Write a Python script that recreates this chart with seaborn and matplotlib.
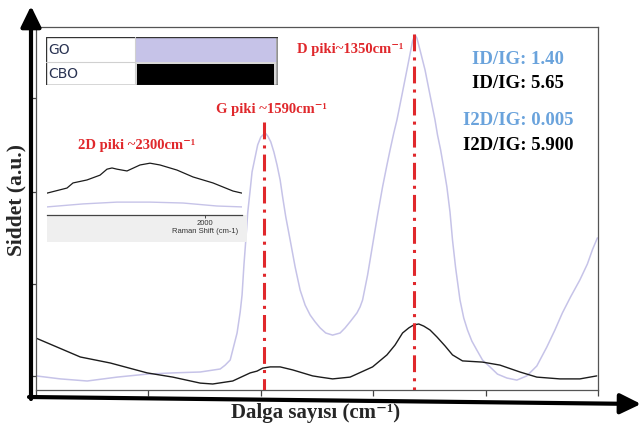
"""
Raman spectrum of GO and CBO with D, G and 2D band annotations.
"""
import numpy as np
import matplotlib
matplotlib.use("Agg")
import matplotlib.pyplot as plt
from matplotlib.patches import Rectangle
import seaborn as sns

# ── Data ───────────────────────────────────────────────────────
# main spectrum, wavenumber (cm-1) vs intensity (a.u.)
go_wn = [1955, 1916, 1873, 1825, 1777, 1736, 1692, 1660, 1652, 1644, 1633,
         1628, 1625, 1622, 1619, 1616, 1612, 1609, 1604, 1600, 1595, 1588,
         1584, 1579, 1574, 1569, 1564, 1560, 1555, 1548, 1540, 1532, 1524,
         1516, 1508, 1500, 1491, 1480, 1468, 1460, 1451, 1441, 1436, 1432,
         1424, 1416, 1408, 1400, 1393, 1388, 1382, 1377, 1369, 1361, 1356,
         1352, 1348, 1345, 1340, 1332, 1324, 1316, 1312, 1307, 1302, 1297,
         1292, 1288, 1283, 1276, 1270, 1264, 1257, 1249, 1240, 1228, 1216,
         1201, 1185, 1169, 1153, 1137, 1124, 1112, 1099, 1084, 1072, 1064,
         1056]
go_int = [4.7, 3.7, 3.0, 4.3, 5.3, 5.7, 6.0, 7.0, 8.3, 10.0, 19.0,
          26.0, 31.7, 41.7, 50.0, 59.0, 66.7, 72.7, 77.7, 81.7, 84.3, 85.7,
          84.7, 82.7, 79.3, 75.0, 70.0, 64.3, 57.7, 50.0, 41.0, 33.3, 28.3,
          25.0, 22.7, 20.7, 19.0, 18.3, 19.0, 20.7, 23.0, 25.7, 27.7, 30.0,
          38.3, 48.3, 58.3, 67.7, 75.0, 80.0, 85.7, 90.0, 98.3, 106.7, 112.0,
          116.3, 118.3, 117.3, 113.3, 106.7, 98.3, 90.0, 85.0, 80.0, 74.0, 67.7,
          59.3, 50.0, 40.7, 30.0, 24.0, 20.0, 16.3, 13.3, 10.0, 7.7, 5.3,
          4.0, 3.3, 4.7, 8.0, 14.3, 20.0, 25.7, 31.0, 36.7, 42.0, 46.7,
          50.7]

cbo_wn = [1955, 1884, 1836, 1777, 1736, 1692, 1672, 1640, 1612, 1601, 1592,
          1580, 1564, 1544, 1512, 1500, 1480, 1452, 1416, 1393, 1380, 1368,
          1358, 1350, 1342, 1334, 1324, 1313, 1300, 1288, 1272, 1240, 1212,
          1180, 1153, 1116, 1084, 1057]
cbo_int = [17.3, 11.0, 9.0, 5.7, 4.3, 2.3, 2.0, 3.0, 5.7, 6.3, 7.3,
           7.7, 7.7, 6.7, 4.7, 4.3, 3.7, 4.3, 7.7, 11.7, 15.0, 19.0,
           20.7, 21.7, 22.0, 21.3, 20.0, 17.7, 14.7, 11.7, 9.7, 9.3, 8.3,
           6.0, 4.3, 3.7, 3.7, 4.7]

# inset: 2D band region
ins_go_wn = [2790, 2610, 2440, 2275, 2110, 1940, 1815]
ins_go_int = [2.7, 3.7, 4.3, 4.3, 4.0, 3.0, 2.7]
ins_cbo_wn = [2790, 2690, 2660, 2590, 2525, 2490, 2465, 2440, 2390, 2325,
              2275, 2225, 2140, 2060, 1960, 1860, 1815]
ins_cbo_int = [7.3, 9.0, 10.7, 11.7, 13.3, 15.3, 15.7, 15.3, 14.7, 16.7,
               17.3, 16.7, 15.0, 12.7, 10.7, 8.0, 7.3]

# peak markers
peak_pos = [1590, 1350]
peak_top = [89.3, 118.7]
peak_labels = ["G piki ~1590cm⁻¹", "D piki~1350cm⁻¹", "2D piki ~2300cm⁻¹"]

ratio_labels = ["ID/IG: 1.40", "ID/IG: 5.65", "I2D/IG: 0.005", "I2D/IG: 5.900"]
ratio_colors = ["#6aa3dc", "black", "#6aa3dc", "black"]

series_names = ["GO", "CBO"]
series_colors = ["#c6c3e8", "#1c1c1c"]

y_ticks = [4.7, 35.3, 66.0, 97.3]

# ── Styling ────────────────────────────────────────────────────
sns.set_theme(style="ticks")
SERIF = ["Liberation Serif", "DejaVu Serif"]
plt.rcParams.update({
    "font.family": SERIF,
    "figure.facecolor": "white",
    "axes.facecolor": "white",
})
RED = "#e0282c"
W, H = 641, 429


def px(x, y):
    """image pixel -> figure fraction"""
    return x / W, 1 - y / H


fig = plt.figure(figsize=(W / 100, H / 100), dpi=100)

# main axes box
ax = fig.add_axes([36 / W, 39 / H, 562 / W, 363 / H])
sns.lineplot(x=go_wn, y=go_int, ax=ax, color=series_colors[0], lw=1.1, errorbar=None)
sns.lineplot(x=cbo_wn, y=cbo_int, ax=ax, color=series_colors[1], lw=1.0, errorbar=None)
for pos, top in zip(peak_pos, peak_top):
    ax.plot([pos, pos], [top, 0], color=RED, lw=2.2,
            linestyle=(0, (5.5, 2, 1, 2)), solid_capstyle="butt", zorder=5)

ax.set_xlim(1955, 1055)
ax.set_ylim(0, 121)
ax.set_xticks(np.linspace(1955, 1055, 6))
ax.set_yticks(y_ticks)
ax.set_xticklabels([])
ax.set_yticklabels([])
ax.set_xlabel("")
ax.set_ylabel("")
ax.tick_params(axis="x", direction="out", length=4.5, width=0.9, color="#444", bottom=True)
ax.tick_params(axis="y", direction="out", length=3, width=0.9, color="#444", left=True)
for sp in ax.spines.values():
    sp.set_color("#555")
    sp.set_linewidth(0.9)

# inset with the 2D band
ax2 = fig.add_axes([47 / W, (H - 215) / H, 195 / W, 65 / H])
ax2.set_facecolor("none")
sns.lineplot(x=ins_go_wn, y=ins_go_int, ax=ax2, color=series_colors[0], lw=1.0, errorbar=None)
sns.lineplot(x=ins_cbo_wn, y=ins_cbo_int, ax=ax2, color=series_colors[1], lw=0.9, errorbar=None)
ax2.set_xlim(2790, 1815)
ax2.set_ylim(0, 21.7)
ax2.set_yticks([])
ax2.set_xticks([2000])
ax2.set_xticklabels(["2000"], fontsize=5.5, family="Liberation Sans", color="#333")
ax2.set_xlabel("Raman Shift (cm-1)", fontsize=5.5, family="Liberation Sans",
               color="#333", labelpad=0)
ax2.xaxis.set_label_coords((205 - 47) / 195, -0.2)
ax2.set_ylabel("")
ax2.tick_params(axis="x", direction="out", length=2.5, width=0.7, pad=1, color="#444", bottom=True)
for side in ["top", "left", "right"]:
    ax2.spines[side].set_visible(False)
ax2.spines["bottom"].set_color("#444")
ax2.spines["bottom"].set_linewidth(0.9)
ax2.add_patch(Rectangle((0, -27 / 65), 200 / 195, 27 / 65, transform=ax2.transAxes,
                        clip_on=False, facecolor="#efefef", edgecolor="none", zorder=-1))

# legend table
ax3 = fig.add_axes([46 / W, (H - 85) / H, 232 / W, 48 / H])
ax3.set_xlim(0, 232)
ax3.set_ylim(48, 0)
ax3.axis("off")
ax3.add_patch(Rectangle((89, 0), 141, 25, facecolor=series_colors[0], edgecolor="none"))
ax3.add_patch(Rectangle((230, 0), 2, 48, facecolor="#a8a8a8", edgecolor="none"))
ax3.add_patch(Rectangle((89, 25), 141, 23, facecolor="#d8d8d8", edgecolor="none"))
ax3.add_patch(Rectangle((91, 27), 137, 21, facecolor="black", edgecolor="none"))
ax3.plot([0, 89], [25, 25], color="#d0d0d0", lw=0.8)
ax3.plot([89, 89], [0, 48], color="#d0d0d0", lw=0.8)
ax3.add_patch(Rectangle((0, 0), 232, 48, facecolor="none", edgecolor="#333", lw=1.0))
for name, yc in zip(series_names, [12.5, 37]):
    ax3.text(2, yc, name, ha="left", va="center", fontsize=10,
             family="DejaVu Sans", color="#2a3352")

# outer arrows
arrow = dict(arrowstyle="-|>,head_length=0.45,head_width=0.22", lw=3, color="black",
             mutation_scale=28, shrinkA=0, shrinkB=0)
ax.annotate("", xy=(31, 423), xytext=(31, 30), xycoords="figure pixels",
            textcoords="figure pixels", arrowprops=arrow, annotation_clip=False)
ax.annotate("", xy=(641, 25), xytext=(29, 32), xycoords="figure pixels",
            textcoords="figure pixels", arrowprops=arrow, annotation_clip=False)

# axis labels
fig.text(*px(16, 200), "Siddet (a.u.)", rotation=90, ha="center", va="center",
         fontsize=15.5, fontweight="bold", family=SERIF)
fig.text(*px(316, 413), "Dalga sayısı (cm⁻¹)", ha="center", va="center",
         fontsize=15, fontweight="bold", family=SERIF)

# peak labels
for label, (x, y) in zip(peak_labels, [(271, 110), (350, 50), (137, 145)]):
    fig.text(*px(x, y), label, ha="center", va="center", fontsize=10.5,
             fontweight="bold", color=RED, family=SERIF)

# intensity ratios
for label, color, y in zip(ratio_labels, ratio_colors, [59, 83, 120, 145]):
    fig.text(*px(518, y), label, ha="center", va="center", fontsize=13.5,
             fontweight="bold", color=color, family=SERIF)

plt.savefig("out.png", dpi=100, facecolor="white")
plt.close()
